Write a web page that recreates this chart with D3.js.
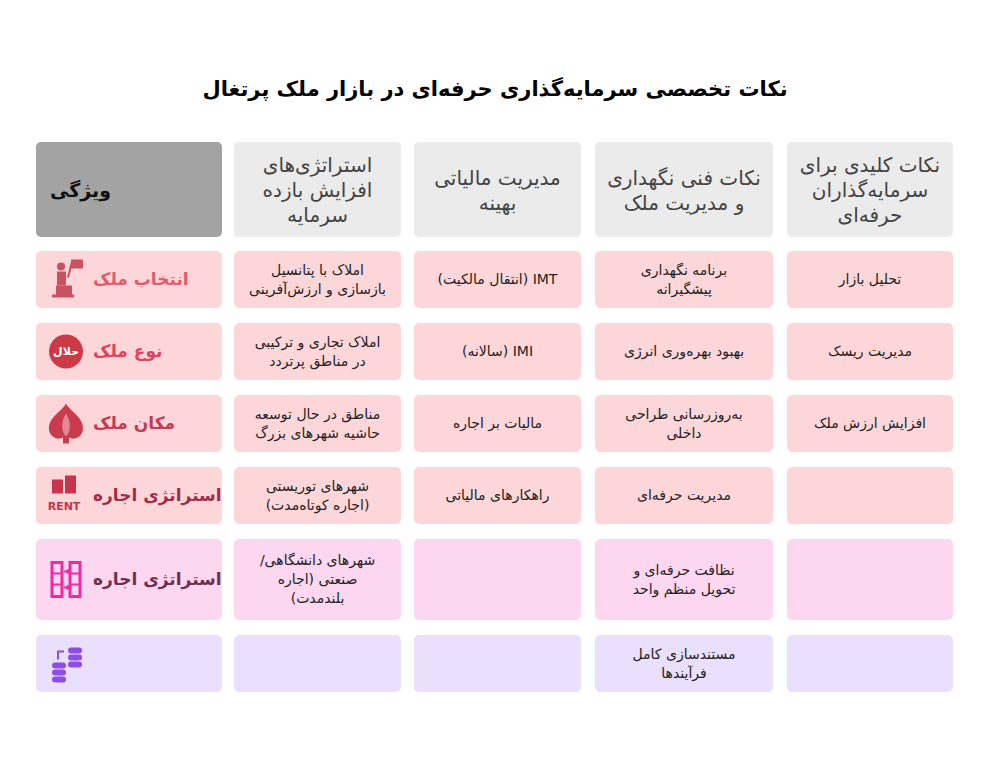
<!DOCTYPE html>
<html><head><meta charset="utf-8">
<script src="https://cdn.jsdelivr.net/npm/d3@7"></script>
<style>body{margin:0;background:#fff}</style></head>
<body><svg id="c" width="990" height="760"></svg>
<script>
const title = "نکات تخصصی سرمایه‌گذاری حرفه‌ای در بازار ملک پرتغال";
// columns, right to left
const columns = ["نکات کلیدی برای\nسرمایه‌گذاران\nحرفه‌ای","نکات فنی نگهداری\nو مدیریت ملک","مدیریت مالیاتی\nبهینه","استراتژی‌های\nافزایش بازده\nسرمایه","ویژگی"];
const keyTips = ["تحلیل بازار","مدیریت ریسک","افزایش ارزش ملک","","",""];
const techTips = ["برنامه نگهداری\nپیشگیرانه","بهبود بهره‌وری انرژی","به‌روزرسانی طراحی\nداخلی","مدیریت حرفه‌ای","نظافت حرفه‌ای و\nتحویل منظم واحد","مستندسازی کامل\nفرآیندها"];
const taxTips = ["IMT (انتقال مالکیت)","IMI (سالانه)","مالیات بر اجاره","راهکارهای مالیاتی","",""];
const returnTips = ["املاک با پتانسیل\nبازسازی و ارزش‌آفرینی","املاک تجاری و ترکیبی\nدر مناطق پرتردد","مناطق در حال توسعه\nحاشیه شهرهای بزرگ","شهرهای توریستی\n(اجاره کوتاه‌مدت)","شهرهای دانشگاهی/\nصنعتی (اجاره\nبلندمدت)",""];
const features = ["انتخاب ملک","نوع ملک","مکان ملک","استراتژی اجاره","استراتژی اجاره",""];
const icons = ["podium","halal","garlic","rent","swap","server"];

const rowFill = ["#fdd6da","#fdd6da","#fdd6da","#fdd6da","#fdd6ef","#ebdffe"];
const featColor = ["#e35a6c","#e24258","#c93a52","#a12d4a","#6e3050","#333"];
const iconColor = ["#c8525f","#cc3a48","#c83c4c","#c8344c","#ee2ba0","#8d4de8"];

const svg = d3.select("#c");
svg.append("text").attr("x",495).attr("y",96).attr("text-anchor","middle")
 .attr("direction","rtl").attr("font-family","DejaVu Sans").attr("font-weight","bold")
 .attr("font-size",21).attr("fill","#000").text(title);

const colX = [[787,953],[595,773],[414,581],[234,401],[36,222]];
const rowsData = d3.range(6).map(i=>[keyTips[i],techTips[i],taxTips[i],returnTips[i],features[i]]);
const heights = rowsData.map(r=>d3.max(r,t=>t.split("\n").length)>=3?81:57);
let yPos=[]; let y0=251; heights.forEach(h=>{yPos.push(y0); y0+=h+15;});

function multiline(g,txt,cx,cy,fs,lh,fill,weight){
  const lines=txt.split("\n");
  const t=g.append("text").attr("text-anchor","middle").attr("direction","rtl")
   .attr("font-family","DejaVu Sans").attr("font-size",fs).attr("fill",fill).attr("font-weight",weight||"normal");
  lines.forEach((l,i)=>t.append("tspan").attr("x",cx).attr("y",cy+(i-(lines.length-1)/2)*lh).attr("dy","0.35em").text(l));
  return t;
}
columns.forEach((c,j)=>{
  const [a,b]=colX[j];
  svg.append("rect").attr("x",a).attr("y",142).attr("width",b-a).attr("height",95).attr("rx",5)
   .attr("fill",j===4?"#a3a3a3":"#ebebeb");
  if(j===4) svg.append("text").attr("x",50).attr("y",190).attr("dy","0.35em").attr("text-anchor","end").attr("direction","rtl")
     .attr("font-family","DejaVu Sans").attr("font-weight","bold").attr("font-size",19).attr("fill","#111").text(c);
  else multiline(svg,c,(a+b)/2,190,20,25,"#444","normal");
});
rowsData.forEach((r,i)=>{
  const y=yPos[i],h=heights[i];
  r.forEach((t,j)=>{
    const [a,b]=colX[j];
    svg.append("rect").attr("x",a).attr("y",y).attr("width",b-a).attr("height",h).attr("rx",5).attr("fill",rowFill[i]);
    if(j<4 && t) multiline(svg,t,(a+b)/2,y+h/2,14,19,"#222");
  });
  const g=svg.append("g").attr("transform",`translate(66,${y+h/2})`);
  drawIcon(g,icons[i],iconColor[i]);
  if(r[4]) svg.append("text").attr("x",93).attr("y",y+h/2).attr("dy","0.35em").attr("text-anchor","end")
     .attr("direction","rtl").attr("font-family","DejaVu Sans").attr("font-weight","bold").attr("font-size",17)
     .attr("fill",featColor[i]).text(r[4]);
});
function drawIcon(g,k,c){
  if(k==="podium"){
    g.append("rect").attr("x",-10).attr("y",6).attr("width",16).attr("height",10).attr("fill",c);
    g.append("rect").attr("x",-14).attr("y",15).attr("width",22).attr("height",3).attr("fill",c);
    g.append("circle").attr("cx",-5).attr("cy",-13).attr("r",4).attr("fill",c);
    g.append("rect").attr("x",-9).attr("y",-8).attr("width",9).attr("height",14).attr("fill",c);
    g.append("line").attr("x1",2).attr("y1",-2).attr("x2",6).attr("y2",-18).attr("stroke",c).attr("stroke-width",2);
    g.append("rect").attr("x",5).attr("y",-20).attr("width",12).attr("height",9).attr("fill",c);
  } else if(k==="halal"){
    g.append("circle").attr("r",17).attr("fill",c);
    g.append("text").attr("text-anchor","middle").attr("dy","0.35em").attr("font-family","DejaVu Sans").attr("font-weight","bold")
     .attr("font-size",11).attr("fill","#fff").attr("direction","rtl").text("حلال");
  } else if(k==="garlic"){
    g.append("path").attr("d","M0,-20 C4,-12 18,-6 17,6 C16,14 8,17 3,14 L3,20 L-3,20 L-3,14 C-8,17 -16,14 -17,6 C-18,-6 -4,-12 0,-20Z").attr("fill",c);
    g.append("path").attr("d","M0,-10 C-5,-2 -5,8 0,13 C5,8 5,-2 0,-10Z").attr("fill","#fdd6da").attr("opacity",0.5);
  } else if(k==="rent"){
    g.append("rect").attr("x",-14).attr("y",-16).attr("width",11).attr("height",14).attr("fill",c);
    g.append("rect").attr("x",-1).attr("y",-20).attr("width",11).attr("height",18).attr("fill",c);
    g.append("text").attr("x",-2).attr("y",14).attr("text-anchor","middle").attr("font-family","DejaVu Sans").attr("font-weight","bold").attr("font-size",11).attr("fill",c).text("RENT");
  } else if(k==="swap"){
    [-14,4].forEach(xx=>{
      g.append("rect").attr("x",xx).attr("y",-17).attr("width",10).attr("height",34).attr("fill","none").attr("stroke",c).attr("stroke-width",3);
      [-6,5].forEach(yy=>g.append("line").attr("x1",xx).attr("x2",xx+10).attr("y1",yy).attr("y2",yy).attr("stroke",c).attr("stroke-width",2));
    });
    [-8,8].forEach(yy=>g.append("path").attr("d",`M-2,${yy} L3,${yy} M1,${yy-2} L3,${yy} L1,${yy+2}`).attr("stroke",c).attr("stroke-width",2).attr("fill","none"));
  } else if(k==="server"){
    [[-14,2],[-14,9],[-14,16],[2,-13],[2,-6],[2,1]].forEach(([xx,yy])=>g.append("rect").attr("x",xx).attr("y",yy-3).attr("width",14).attr("height",6).attr("rx",3).attr("fill",c));
    g.append("path").attr("d","M-8,-4 L-8,-12 L-2,-12").attr("stroke",c).attr("stroke-width",2).attr("fill","none");
  }
}
</script></body></html>
